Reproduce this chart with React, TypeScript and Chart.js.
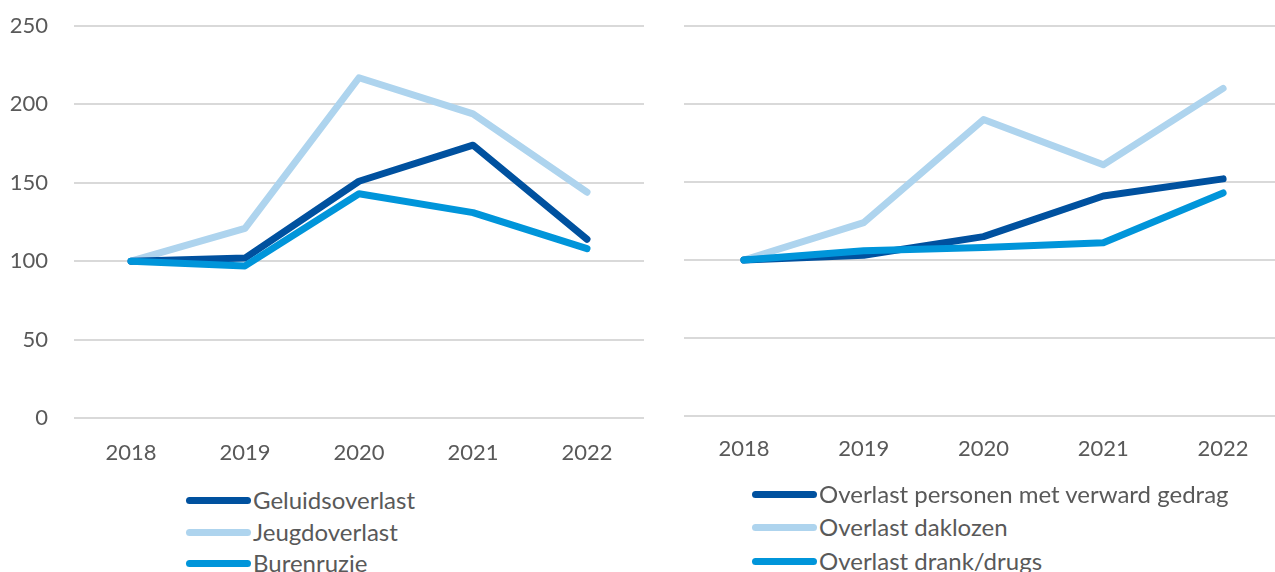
import React, { useEffect, useRef } from "react";
import { Chart, registerables } from "chart.js";

Chart.register(...registerables);

const years = ["2018", "2019", "2020", "2021", "2022"];

const leftLabels = ["Geluidsoverlast", "Jeugdoverlast", "Burenruzie"];
const geluidsoverlast = [100, 102, 151, 174, 114];
const jeugdoverlast = [100, 121, 217, 194, 144];
const burenruzie = [100, 97, 143, 131, 108];

const rightLabels = [
  "Overlast personen met verward gedrag",
  "Overlast daklozen",
  "Overlast drank/drugs",
];
const verwardGedrag = [100, 103, 115, 141, 152];
const daklozen = [100, 124, 190, 161, 210];
const drankDrugs = [100, 106, 108, 111, 143];

const yTicks = [0, 50, 100, 150, 200, 250];

const COLORS = ["#00519F", "#AED4EE", "#0095DA"];
const FONT = "Lato, 'Noto Sans', sans-serif";
const TEXT = "#595959";
const GRID = "#D9D9D9";

function makeConfig(
  labels: string[],
  series: number[][],
  opts: { left: boolean; yWidth: number; rightPad: number; topPad: number; xHeight: number; xPad: number }
): any {
  return {
    type: "line",
    data: {
      labels: years,
      datasets: series.map((d, i) => ({
        label: labels[i],
        data: d,
        borderColor: COLORS[i],
        backgroundColor: COLORS[i],
        borderWidth: 7,
        borderCapStyle: "round",
        borderJoinStyle: "round",
        pointRadius: 0,
        tension: 0,
        fill: false,
        order: i === 0 ? 1 : i === 1 ? 2 : 0,
      })),
    },
    options: {
      responsive: false,
      animation: false,
      devicePixelRatio: 1,
      layout: { padding: { top: opts.topPad, right: opts.rightPad, left: 0, bottom: 0 } },
      plugins: { legend: { display: false }, tooltip: { enabled: false } },
      scales: {
        x: {
          offset: true,
          grid: { display: false, drawTicks: false },
          border: { display: false },
          ticks: { color: TEXT, font: { family: FONT, size: 22 }, padding: opts.xPad, maxRotation: 0 },
          afterFit: (s: any) => {
            s.height = opts.xHeight;
          },
        },
        y: {
          min: 0,
          max: 250,
          afterBuildTicks: (s: any) => {
            s.ticks = yTicks.map((v) => ({ value: v }));
          },
          grid: { color: GRID, lineWidth: 2, drawTicks: false },
          border: { display: false },
          ticks: {
            display: opts.left,
            color: TEXT,
            font: { family: FONT, size: 22 },
            padding: 26,
          },
          afterFit: (s: any) => {
            s.width = opts.yWidth;
            s.paddingTop = 0;
            s.paddingBottom = 0;
          },
        },
      },
    },
  };
}

function LineChart(props: { config: any; left: number; width: number; height: number }) {
  const ref = useRef<HTMLCanvasElement>(null);
  useEffect(() => {
    if (!ref.current) return;
    const chart = new Chart(ref.current, props.config);
    return () => chart.destroy();
  }, []);
  return (
    <canvas
      ref={ref}
      width={props.width}
      height={props.height}
      style={{ position: "absolute", left: props.left, top: 0, width: props.width, height: props.height }}
    />
  );
}

function Legend(props: { labels: string[]; left: number; rows: number[] }) {
  return (
    <>
      {props.labels.map((l, i) => (
        <div
          key={l}
          style={{
            position: "absolute",
            left: props.left,
            top: props.rows[i] - 15,
            height: 30,
            display: "flex",
            alignItems: "center",
            whiteSpace: "nowrap",
          }}
        >
          <div style={{ width: 65, height: 7, borderRadius: 4, background: COLORS[i], marginRight: 2 }} />
          <span style={{ fontFamily: FONT, fontSize: 24, color: TEXT, lineHeight: "30px" }}>{l}</span>
        </div>
      ))}
    </>
  );
}

export default function App() {
  const leftCfg = makeConfig(leftLabels, [geluidsoverlast, jeugdoverlast, burenruzie], {
    left: true,
    yWidth: 74,
    rightPad: 16,
    topPad: 26,
    xHeight: 62,
    xPad: 22,
  });
  const rightCfg = makeConfig(rightLabels, [verwardGedrag, daklozen, drankDrugs], {
    left: false,
    yWidth: 29,
    rightPad: 32,
    topPad: 26,
    xHeight: 64,
    xPad: 20,
  });
  return (
    <div
      style={{
        position: "fixed",
        left: 0,
        top: 0,
        width: 1275,
        height: 572,
        overflow: "hidden",
        background: "#fff",
      }}
    >
      <LineChart config={leftCfg} left={0} width={660} height={480} />
      <LineChart config={rightCfg} left={655} width={660} height={480} />
      <Legend labels={leftLabels} left={186} rows={[500, 532, 563]} />
      <Legend labels={rightLabels} left={752} rows={[494, 527, 561]} />
    </div>
  );
}
